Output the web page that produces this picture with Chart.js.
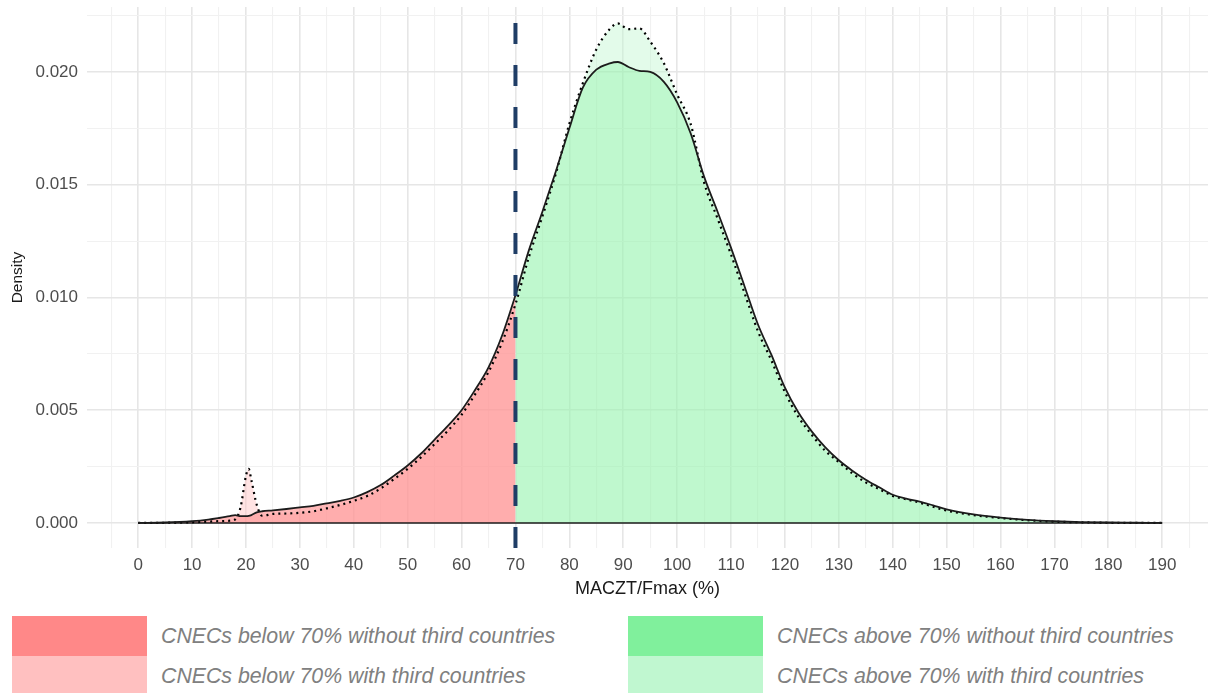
<!DOCTYPE html>
<html>
<head>
<meta charset="utf-8">
<script src="https://cdn.jsdelivr.net/npm/chart.js@4.4.1/dist/chart.umd.min.js"></script>
<style>
  body { margin: 0; background: #fff; font-family: "Liberation Sans", Arial, sans-serif; overflow: hidden; }
  .chart-wrap { position: absolute; left: 0; top: 0; width: 1208px; height: 605px; }
  .legend { position: absolute; left: 0; top: 616px; width: 1208px; height: 80px; }
  .legend-item { position: absolute; height: 40px; display: flex; align-items: center; }
  .legend-box { width: 135px; height: 40px; }
  .legend-label { margin-left: 14px; font-style: italic; font-size: 21.3px; color: #808080; white-space: nowrap; }
</style>
</head>
<body>
<div class="chart-wrap"><canvas id="density"></canvas></div>
<div class="legend" id="legend"></div>
<script>
// MACZT/Fmax (%) sample positions
const xValues = [0, 5, 10, 13, 15, 17, 18, 19, 20, 20.5, 21, 22, 23, 25, 27.5, 30, 32.5, 35, 37.5, 40,
  42.5, 45, 47.5, 50, 52.5, 55, 57.5, 60, 62.5, 65, 67.5, 70, 72.5, 75, 77.5, 80, 82.5, 85, 87.5, 89,
  91, 93, 95, 97.5, 100, 102.5, 105, 107.5, 110, 112.5, 115, 117.5, 120, 122.5, 125, 127.5, 130, 132.5, 135, 137.5,
  140, 142.5, 145, 147.5, 150, 155, 160, 165, 170, 175, 180, 185, 190];

// density, CNECs without third countries (solid line)
const densityWithout = [0, 0.00002, 0.00008, 0.00015, 0.00022, 0.0003, 0.00035, 0.0003, 0.0003, 0.00031,
  0.00035, 0.00047, 0.00052, 0.00056, 0.00062, 0.00069, 0.00076, 0.00087, 0.00098, 0.00113,
  0.00137, 0.00168, 0.0021, 0.00255, 0.00308, 0.0037, 0.00432, 0.005, 0.0059, 0.0069,
  0.0083, 0.0101, 0.0121, 0.0138, 0.0156, 0.0175, 0.0193, 0.0201, 0.02038, 0.02044,
  0.02022, 0.02005, 0.02, 0.01957, 0.01865, 0.01728, 0.01536, 0.0138, 0.0122, 0.0105,
  0.0088, 0.00745, 0.006, 0.0049, 0.00405, 0.00335, 0.00278, 0.00232, 0.00192, 0.00158,
  0.00125, 0.00108, 0.00095, 0.00078, 0.0006, 0.00038, 0.00024, 0.00014, 0.00008, 0.00004,
  0.00002, 0.00001, 0];

// density, CNECs with third countries (dotted line)
const densityWith = [0, 0.00001, 0.00003, 0.00006, 0.00008, 0.0001, 0.00016, 0.0007, 0.0021, 0.0024,
  0.0019, 0.0008, 0.00032, 0.0004, 0.00042, 0.00045, 0.00052, 0.00065, 0.0008, 0.00098,
  0.0012, 0.00153, 0.00195, 0.0024, 0.00292, 0.0035, 0.0041, 0.0048, 0.0057, 0.0067,
  0.008, 0.0097, 0.0118, 0.0136, 0.0155, 0.0177, 0.0195, 0.021, 0.0219, 0.02215,
  0.0219, 0.02193, 0.02135, 0.0204, 0.019, 0.0177, 0.0151, 0.0135, 0.0119, 0.0102,
  0.0085, 0.0072, 0.0058, 0.0047, 0.0039, 0.0032, 0.0027, 0.0022, 0.0018, 0.0015,
  0.0012, 0.00105, 0.0009, 0.00072, 0.00055, 0.00035, 0.00022, 0.00012, 0.00006, 0.00003,
  0.00001, 0, 0];

const threshold = 70;
const xTicks = [0, 10, 20, 30, 40, 50, 60, 70, 80, 90, 100, 110, 120, 130, 140, 150, 160, 170, 180, 190];
const yTicks = [0, 0.005, 0.01, 0.015, 0.02];
const yTickLabels = ["0.000", "0.005", "0.010", "0.015", "0.020"];

const legendLabels = [
  "CNECs below 70% without third countries",
  "CNECs below 70% with third countries",
  "CNECs above 70% without third countries",
  "CNECs above 70% with third countries",
];
const legendColors = ["#ff8888", "#ffc0c0", "#80f09c", "#c0f7d0"];

const xMin = -9.5, xMax = 198.5;
const yMin = -0.00111, yMax = 0.02288;

// minor grid lines sit halfway between the labelled ticks
const xGrid = [];
for (let v = -5; v <= 195; v += 5) xGrid.push(v);
const yGrid = [];
for (let i = 0; i <= 9; i++) yGrid.push(i * 0.0025);

const toPoints = (ys, keep) =>
  xValues.map((x, i) => ({ x: x, y: ys[i] })).filter((p) => keep(p.x));

const below = (x) => x <= threshold;
const above = (x) => x >= threshold;
const all = () => true;

const isMajorX = (v) => xTicks.includes(v);
const isMajorY = (v) => yTicks.some((t) => Math.abs(t - v) < 1e-9);

const lineBase = {
  pointRadius: 0,
  cubicInterpolationMode: "monotone",
  fill: false,
};

const fillBase = {
  pointRadius: 0,
  borderWidth: 0,
  cubicInterpolationMode: "monotone",
  fill: "origin",
};

Chart.defaults.font.family = "'Liberation Sans', Arial, sans-serif";

new Chart(document.getElementById("density"), {
  type: "line",
  data: {
    datasets: [
      {
        ...lineBase,
        label: "threshold",
        data: [{ x: threshold, y: yMin }, { x: threshold, y: yMax }],
        borderColor: "#1f3d66",
        borderWidth: 4,
        borderDash: [21, 21],
        cubicInterpolationMode: "default",
        order: -1,
      },
      {
        ...lineBase,
        label: "without",
        data: toPoints(densityWithout, all),
        borderColor: "#1c1c1c",
        borderWidth: 1.8,
        order: 0,
      },
      {
        ...lineBase,
        label: "with",
        data: toPoints(densityWith, all),
        borderColor: "#000000",
        borderWidth: 2.2,
        borderDash: [2, 4],
        order: 1,
      },
      {
        ...lineBase,
        label: "baseline",
        data: [{ x: xValues[0], y: 0 }, { x: xValues[xValues.length - 1], y: 0 }],
        borderColor: "#1c1c1c",
        borderWidth: 1.6,
        order: 2,
      },
      { ...fillBase, label: legendLabels[0], data: toPoints(densityWithout, below), backgroundColor: "rgba(255,136,136,0.6)", order: 4 },
      { ...fillBase, label: legendLabels[2], data: toPoints(densityWithout, above), backgroundColor: "rgba(128,240,156,0.36)", order: 5 },
      { ...fillBase, label: legendLabels[1], data: toPoints(densityWith, below), backgroundColor: "rgba(255,192,192,0.45)", order: 6 },
      { ...fillBase, label: legendLabels[3], data: toPoints(densityWith, above), backgroundColor: "rgba(192,247,208,0.45)", order: 7 },
    ],
  },
  options: {
    responsive: true,
    maintainAspectRatio: false,
    animation: false,
    devicePixelRatio: 1,
    layout: { padding: { top: 7, left: 0, right: 0, bottom: 0 } },
    plugins: {
      legend: { display: false },
      tooltip: { enabled: false },
    },
    scales: {
      x: {
        type: "linear",
        min: xMin,
        max: xMax,
        afterBuildTicks: (scale) => {
          scale.ticks = xGrid.map((v) => ({ value: v }));
        },
        afterFit: (scale) => {
          scale.height = 57;
          scale.paddingLeft = 0;
          scale.paddingRight = 0;
        },
        ticks: {
          autoSkip: false,
          maxRotation: 0,
          color: "#4d4d4d",
          font: { size: 17 },
          padding: 7,
          callback: (v) => (isMajorX(v) ? String(v) : ""),
        },
        grid: {
          drawTicks: false,
          color: (ctx) => (ctx.tick && isMajorX(ctx.tick.value) ? "#e6e6e6" : "#f1f1f1"),
          lineWidth: (ctx) => (ctx.tick && isMajorX(ctx.tick.value) ? 1.6 : 1.1),
        },
        border: { display: false },
        title: {
          display: true,
          text: "MACZT/Fmax (%)",
          color: "#1a1a1a",
          font: { size: 18 },
          padding: { top: 0, bottom: 5 },
        },
      },
      y: {
        type: "linear",
        min: yMin,
        max: yMax,
        afterBuildTicks: (scale) => {
          scale.ticks = yGrid.map((v) => ({ value: v }));
        },
        afterFit: (scale) => {
          scale.width = 87;
          scale.paddingTop = 0;
          scale.paddingBottom = 0;
        },
        ticks: {
          autoSkip: false,
          color: "#4d4d4d",
          font: { size: 17 },
          padding: 9,
          callback: (v) => {
            const k = yTicks.findIndex((t) => Math.abs(t - v) < 1e-9);
            return k >= 0 ? yTickLabels[k] : "";
          },
        },
        grid: {
          drawTicks: false,
          color: (ctx) => (ctx.tick && isMajorY(ctx.tick.value) ? "#e6e6e6" : "#f1f1f1"),
          lineWidth: (ctx) => (ctx.tick && isMajorY(ctx.tick.value) ? 1.6 : 1.1),
        },
        border: { display: false },
        title: {
          display: true,
          text: "Density",
          color: "#1a1a1a",
          font: { size: 15.5 },
          padding: { top: 8, bottom: 0 },
        },
      },
    },
  },
});

// legend: two columns, "without" on the first row, "with" on the second
const legend = document.getElementById("legend");
const columnLeft = [12, 628];
legendLabels.forEach((text, i) => {
  const item = document.createElement("div");
  item.className = "legend-item";
  item.style.left = columnLeft[Math.floor(i / 2)] + "px";
  item.style.top = (i % 2) * 40 + "px";
  const box = document.createElement("div");
  box.className = "legend-box";
  box.style.background = legendColors[i];
  const label = document.createElement("span");
  label.className = "legend-label";
  label.textContent = text;
  item.appendChild(box);
  item.appendChild(label);
  legend.appendChild(item);
});
</script>
</body>
</html>
